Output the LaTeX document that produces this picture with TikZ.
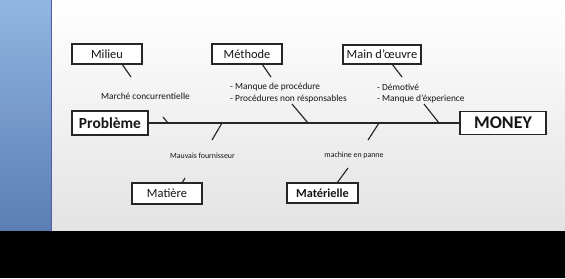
\documentclass[tikz,border=0pt]{standalone}
\usepackage{fontspec}
\setmainfont{Carlito}
\definecolor{ink}{HTML}{151515}
\definecolor{frame}{HTML}{262626}
\definecolor{bluetop}{HTML}{92B6E2}
\definecolor{bluebot}{HTML}{5A7DB3}
\definecolor{slidebot}{HTML}{E3E3E3}
\tikzset{
  catbox/.style={draw=frame, line width=1.25pt, fill=white, text=ink, inner sep=0pt,
                 font=\fontsize{12.5}{14}\selectfont},
  endbox/.style={draw=frame, line width=1.35pt, fill=white, text=ink, inner sep=0pt,
                 font=\bfseries},
  cause/.style={text=ink, inner sep=0pt, font=\fontsize{9.4}{11}\selectfont},
  smallcause/.style={text=ink, inner sep=0pt, font=\fontsize{7.9}{9}\selectfont},
  bone/.style={draw=frame, line width=1.15pt},
  spine/.style={draw=frame, line width=1.4pt}
}
\begin{document}
\begin{tikzpicture}[x=1bp, y=-1bp]
\useasboundingbox (0,0) rectangle (565,278);
% window background: side bar, slide page and lower black band
\shade[top color=bluetop, bottom color=bluebot] (0,0) rectangle (51,231);
\shade[top color=white, middle color=white!96!gray, bottom color=slidebot] (51,0) rectangle (565,231);
\draw[gray!70!blue, line width=0.8pt] (51.4,0) -- (51.4,231);
\fill[black] (0,231) rectangle (565,278);

% head and tail of the fishbone
\node[endbox, minimum width=76bp, minimum height=24bp, font=\fontsize{15.5}{17}\selectfont\bfseries] (prob) at (110,123) {Problème};
\node[endbox, minimum width=86bp, minimum height=23bp, font=\fontsize{18}{20}\selectfont\bfseries] (money) at (503,123) {MONEY};
\draw[spine] (prob.east) -- (money.west);

% category boxes
\node[catbox, minimum width=70bp, minimum height=20bp] (milieu) at (107,54) {Milieu};
\node[catbox, minimum width=70bp, minimum height=20bp] (methode) at (247,54) {Méthode};
\node[catbox, minimum width=78bp, minimum height=19bp] (main) at (382,54.5) {Main d’œuvre};
\node[catbox, minimum width=70bp, minimum height=21bp] (matiere) at (167,193.5) {Matière};
\node[catbox, minimum width=71bp, minimum height=20bp, font=\fontsize{12.3}{14}\selectfont\bfseries] (materiel) at (322.5,193) {Matérielle};

% short strokes under and over the boxes
\coordinate (m1a) at (122,64);  \coordinate (m1b) at (131,77);
\coordinate (m2a) at (262,64);  \coordinate (m2b) at (271,77);
\coordinate (m3a) at (392,64);  \coordinate (m3b) at (402,77);
\coordinate (m4a) at (182,183); \coordinate (m4b) at (185,178);
\coordinate (m5a) at (337,183); \coordinate (m5b) at (348,168);
\foreach \a/\b in {m1a/m1b, m2a/m2b, m3a/m3b, m4a/m4b, m5a/m5b}
  \draw[bone] (\a) -- (\b);

% bones meeting the spine
\coordinate (b1a) at (163,117); \coordinate (b1b) at (168,123);
\coordinate (b2a) at (212,140); \coordinate (b2b) at (222,123);
\coordinate (b3a) at (292,104); \coordinate (b3b) at (308,123);
\coordinate (b4a) at (368,140); \coordinate (b4b) at (379,123);
\coordinate (b5a) at (424,104); \coordinate (b5b) at (439,123);
\foreach \a/\b in {b1a/b1b, b2a/b2b, b3a/b3b, b4a/b4b, b5a/b5b}
  \draw[bone] (\a) -- (\b);

% causes
\node[cause] (c1) at (145.5,96) {Marché concurrentielle};
\node[cause, anchor=west] (c2) at (230,87) {- Manque de procédure};
\node[cause, anchor=west] (c3) at (230,98.5) {- Procédures non résponsables};
\node[cause, anchor=west] (c4) at (377,87) {- Démotivé};
\node[cause, anchor=west] (c5) at (377,98.5) {- Manque d’éxperience};
\node[smallcause] (c6) at (202.5,156) {Mauvais fournisseur};
\node[smallcause] (c7) at (354,155) {machine en panne};
\end{tikzpicture}
\end{document}
